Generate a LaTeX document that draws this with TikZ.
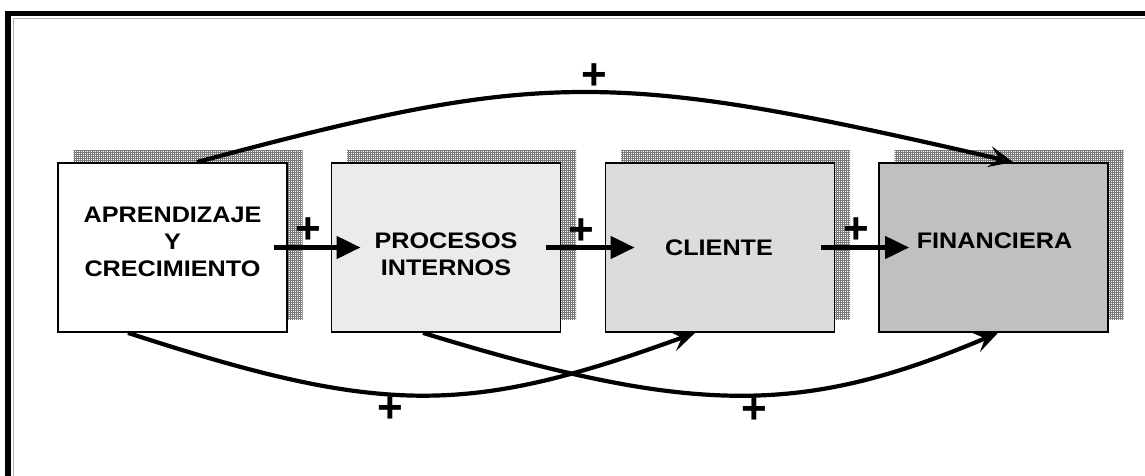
\documentclass[tikz,border=0pt]{standalone}
\usepackage{fontspec}
\setmainfont{Liberation Sans}
\newfontfamily\widesans{Liberation Sans}[FakeStretch=1.12]
\usetikzlibrary{arrows.meta,shadows,patterns.meta}
\definecolor{shadowgray}{HTML}{C4C4C4}
\definecolor{shadowgrid}{HTML}{7A7A7A}
\definecolor{fillproc}{HTML}{EBEBEB}
\definecolor{fillclient}{HTML}{DCDCDC}
\definecolor{fillfin}{HTML}{C0C0C0}
\begin{document}
\begin{tikzpicture}[x=1pt,y=-1pt,
  panel/.style={draw=black, line width=1.8pt, minimum width=229pt,
    minimum height=169pt, inner sep=0pt,
    drop shadow={shadow xshift=15.5pt, shadow yshift=13pt,
      fill=shadowgray, opacity=1,
      pattern={Hatch[angle=0, distance=2pt, line width=0.6pt]},
      pattern color=shadowgrid}},
  caption/.style={font=\widesans\bfseries\fontsize{22.5}{27}\selectfont,
    align=center, inner sep=0pt},
  plus/.style={font=\bfseries\fontsize{44}{44}\selectfont, inner sep=0pt},
  link/.style={line width=4.5pt, -{Triangle[length=24pt,width=22pt]}},
  arc link/.style={line width=4.2pt, -{Stealth[length=24pt,width=21pt,inset=10pt]}}]
\useasboundingbox (0,0) rectangle (1145,476);
\clip (0,0) rectangle (1145,476);
\fill[white] (0,0) rectangle (1145,476);

% outer frame
\draw[line width=5.5pt] (8,500) -- (8,13.5) -- (1170,13.5);
\draw[gray!60, line width=0.8pt] (13.8,500) -- (13.8,18.2) -- (1170,18.2);

% perspective panels
\node[panel, fill=white]      (b1) at (172.5,247.5) {};
\node[panel, fill=fillproc]   (b2) at (446,247.5) {};
\node[panel, fill=fillclient] (b3) at (720,247.5) {};
\node[panel, fill=fillfin]    (b4) at (993.5,247.5) {};

\node[caption] (t1) at (172.5,242) {APRENDIZAJE\\Y\\CRECIMIENTO};
\node[caption] (t2) at (446,254) {PROCESOS\\INTERNOS};
\node[caption] (t3) at (719,248) {CLIENTE};
\node[caption] (t4) at (994.5,241) {FINANCIERA};

% direct links
\draw[link] ([xshift=-14pt]b1.east) -- ([xshift=30pt]b2.west);
\draw[link] ([xshift=-15pt]b2.east) -- ([xshift=30pt]b3.west);
\draw[link] ([xshift=-14pt]b3.east) -- ([xshift=31pt]b4.west);

% long-range links
\draw[arc link] ([xshift=24.5pt]b1.north) .. controls +(347,-93) and +(-403,-93) .. ([xshift=19.5pt]b4.north);
\draw[arc link] ([xshift=-44.5pt]b1.south) .. controls +(255,83) and +(-228,83) .. ([xshift=-25pt]b3.south);
\draw[arc link] ([xshift=-23pt]b2.south) .. controls +(271,83) and +(-196,83) .. ([xshift=4.5pt]b4.south);

% signs
\node[plus] (p0) at (594,77) {+};
\node[plus] (p1) at (308,231) {+};
\node[plus] (p2) at (581,232) {+};
\node[plus] (p3) at (856,231) {+};
\node[plus] (p4) at (390,410) {+};
\node[plus] (p5) at (754,411) {+};
\end{tikzpicture}
\end{document}
